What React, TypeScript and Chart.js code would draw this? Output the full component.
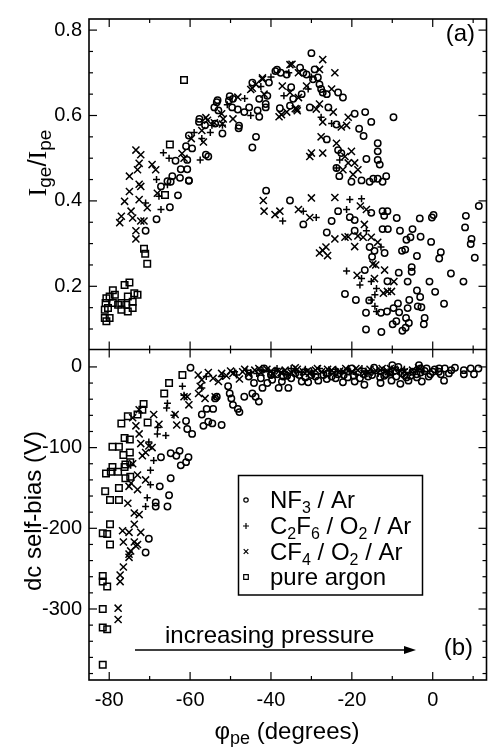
import React, { useEffect, useRef } from 'react';
import { Chart, registerables } from 'chart.js';

Chart.register(...registerables);

type P = [number, number];

// ---- axis tick labels ----
const xTickValues = [-80, -60, -40, -20, 0];
const topTickValues = [0.2, 0.4, 0.6, 0.8];
const bottomTickValues = [-300, -200, -100, 0];

// ---- panel (a): Ige/Ipe vs phi ----
const nf3Top: P[] = [
  [-63.6,0.494],[-61.0,0.528],[-60.3,0.553],[-59.5,0.523],[-60.7,0.496],[-62.3,0.474],[-60.7,0.474],[-60.3,0.448],
  [-62.5,0.454],[-64.4,0.458],[-65.6,0.446],[-56.1,0.508],[-55.5,0.504],[-57.8,0.585],[-56.3,0.577],[-53.8,0.581],
  [-54.0,0.619],[-53.4,0.631],[-53.0,0.612],[-52.0,0.558],[-50.2,0.645],[-49.4,0.639],[-50.4,0.635],[-49.6,0.619],
  [-48.2,0.614],[-46.6,0.608],[-45.4,0.619],[-48.0,0.570],[-44.6,0.677],[-42.9,0.639],[-43.3,0.612],[-42.9,0.597],
  [-41.3,0.627],[-41.3,0.619],[-40.5,0.677],[-40.9,0.646],[-38.9,0.704],[-37.6,0.700],[-37.8,0.617],[-43.7,0.550],
  [-44.6,0.525],[-57.7,0.592],[-53.2,0.636],[-38.5,0.707],[-47.9,0.576],
  [-71.0,0.330],[-68.3,0.357],[-65.0,0.385],[-67.2,0.434],[-63.0,0.413],[-60.3,0.447],[-64.8,0.445],[-41.2,0.424],
  [-30.0,0.746],[-36.1,0.696],[-32.8,0.712],[-32.0,0.700],[-31.2,0.696],[-29.2,0.708],[-29.6,0.685],[-28.4,0.689],
  [-28.0,0.673],[-27.6,0.662],[-35.0,0.666],[-32.4,0.650],[-34.5,0.639],[-35.3,0.623],[-30.4,0.619],[-27.2,0.654],
  [-26.2,0.650],[-23.4,0.654],[-22.2,0.642],[-25.8,0.619],[-23.8,0.579],[-19.3,0.604],[-16.7,0.608],[-18.2,0.569],
  [-15.2,0.585],[-17.1,0.552],[-9.7,0.596],[-26.2,0.544],[-23.4,0.519],[-22.6,0.512],[-16.4,0.498],[-13.6,0.535],
  [-13.6,0.516],[-13.6,0.496],[-13.1,0.485],[-23.1,0.458],[-20.1,0.445],[-17.6,0.448],[-15.6,0.445],[-14.7,0.452],
  [-13.6,0.452],[-12.4,0.445],[-11.5,0.458],[-23.8,0.477],
  [-35.3,0.401],[-32.0,0.345],[-23.4,0.376],[-25.0,0.353],[-20.5,0.362],[-19.3,0.355],[-15.2,0.372],[-12.4,0.376],
  [-11.2,0.376],[-12.0,0.365],[-8.9,0.360],[-3.2,0.359],[-0.2,0.361],[0.2,0.367],[8.2,0.365],[11.4,0.388],
  [-26.2,0.326],[-19.3,0.330],[-12.4,0.334],[-11.1,0.334],[-8.1,0.330],[-5.0,0.334],[-3.0,0.316],[-6.5,0.309],
  [-5.5,0.315],[-15.6,0.292],[-14.4,0.283],[-15.0,0.269],[-11.9,0.278],[-7.6,0.283],[-6.8,0.286],[-3.9,0.271],
  [-0.4,0.304],[2.0,0.280],[1.6,0.265],[9.6,0.311],[9.4,0.299],[10.4,0.267],[8.0,0.338],[-16.8,0.238],
  [-11.2,0.212],[-8.4,0.232],[-5.2,0.245],[-5.2,0.234],[-6.2,0.211],[-0.8,0.211],[4.5,0.230],[7.6,0.211],
  [-21.7,0.182],[-19.0,0.168],[-15.7,0.167],[-3.9,0.190],[-3.1,0.175],[0.6,0.187],[2.8,0.159],[-16.5,0.138],
  [-12.8,0.138],[-11.3,0.141],[-9.7,0.149],[-8.6,0.160],[-8.3,0.139],[-6.2,0.149],[-5.8,0.168],[-3.7,0.153],
  [-2.8,0.151],[-2.0,0.126],[-2.2,0.111],[-6.6,0.126],[-5.9,0.114],[-7.5,0.096],[-6.7,0.103],[-9.0,0.118],
  [-9.9,0.111],[-16.5,0.099],[-12.7,0.093],
];
const c2f6Top: P[] = [
  [-66.6,0.513],[-65.2,0.500],[-68.3,0.450],[-57.1,0.546],[-57.5,0.496],[-54.6,0.577],[-52.0,0.577],[-36.8,0.646],
  [-71.0,0.395],[-67.7,0.411],[-67.2,0.380],[-65.6,0.438],[-37.1,0.353],
  [-30.8,0.662],[-27.6,0.596],[-25.0,0.581],[-23.0,0.496],[-23.8,0.477],
  [-32.0,0.376],[-28.8,0.361],[-20.5,0.403],[-17.6,0.405],[-21.3,0.380],[-16.4,0.330],[-12.8,0.292],[-21.3,0.236],
  [-17.6,0.218],[-18.0,0.203],[-15.2,0.211],[-13.9,0.195],[-14.3,0.180],[-15.2,0.168],[-14.3,0.153],[-13.9,0.141],
  [-59.0,0.560],[-55.0,0.560],[-50.8,0.625],[-46.5,0.640],[-42.5,0.668],[-40.0,0.690],[-35.6,0.700],[-30.0,0.690],
  [-45.0,0.600],
];
const cf4Top: P[] = [
  [-73.4,0.519],[-72.2,0.508],[-72.6,0.488],[-73.0,0.473],[-69.4,0.485],[-68.5,0.473],[-75.0,0.458],[-72.6,0.439],
  [-62.0,0.511],[-61.5,0.500],[-59.7,0.546],[-57.1,0.565],[-56.7,0.538],[-55.7,0.589],[-52.2,0.604],[-51.8,0.592],
  [-48.2,0.643],[-49.4,0.592],[-45.0,0.661],[-43.7,0.673],[-42.1,0.685],[-41.7,0.650],[-37.2,0.669],[-38.0,0.597],
  [-75.0,0.422],[-72.2,0.434],[-76.2,0.399],[-77.0,0.364],[-77.4,0.349],[-74.6,0.376],[-74.2,0.360],[-72.6,0.403],
  [-70.6,0.384],[-72.2,0.353],[-71.4,0.353],[-73.4,0.330],[-73.4,0.311],[-68.1,0.418],[-41.9,0.401],[-41.7,0.376],
  [-39.0,0.368],[-37.8,0.376],
  [-27.2,0.731],[-24.2,0.700],[-35.3,0.719],[-33.2,0.700],[-28.0,0.708],[-31.2,0.669],[-35.3,0.654],[-33.2,0.642],
  [-33.6,0.615],[-36.1,0.608],[-28.8,0.615],[-28.0,0.627],[-25.0,0.662],[-24.6,0.608],[-27.2,0.585],[-22.6,0.573],
  [-21.3,0.577],[-20.9,0.596],[-27.6,0.550],[-23.8,0.535],[-30.0,0.512],[-30.4,0.504],[-27.2,0.512],[-20.1,0.516],
  [-21.7,0.504],[-20.9,0.489],[-19.3,0.489],[-22.2,0.473],[-18.5,0.473],[-19.7,0.462],
  [-33.2,0.380],[-30.0,0.407],[-30.4,0.361],[-24.2,0.408],[-17.9,0.388],[-16.4,0.380],[-24.2,0.311],[-21.7,0.315],
  [-20.9,0.316],[-18.5,0.318],[-17.2,0.315],[-16.9,0.345],[-15.2,0.315],[-13.6,0.303],[-19.3,0.293],[-27.2,0.284],
  [-26.4,0.292],[-28.0,0.278],[-26.0,0.272],[-14.8,0.252],[-14.1,0.250],[-11.9,0.238],[-18.7,0.226],[-14.4,0.218],
  [-9.6,0.211],[-12.2,0.184],[-11.2,0.188],[-10.2,0.188],
  [-34.8,0.720],[-42.1,0.688],[-44.6,0.664],[-56.1,0.595],[-54.0,0.583],[-52.0,0.580],[-37.4,0.602],[-34.0,0.616],
  [-33.5,0.611],
];
const argonTop: P[] = [
  [-61.5,0.683],[-65.0,0.532],[-66.2,0.414],[-71.4,0.288],[-71.1,0.276],[-70.6,0.253],
  [-79.1,0.191],[-79.9,0.176],[-80.7,0.172],[-80.9,0.161],[-81.1,0.145],[-81.1,0.126],[-80.7,0.118],[-79.9,0.126],
  [-80.3,0.149],[-79.1,0.161],[-78.6,0.180],[-77.0,0.161],[-77.0,0.145],[-76.2,0.203],[-75.0,0.209],[-75.4,0.176],
  [-75.4,0.141],[-74.2,0.164],[-74.2,0.149],[-73.8,0.184],[-73.0,0.180],[-75.8,0.157],[-77.8,0.157],
];

// ---- panel (b): dc self-bias (V) vs phi ----
const nf3Bottom: P[] = [
  [-71.0,-230],[-70.2,-213],[-68.5,-168],[-68.5,-173],[-65.6,-173],[-65.2,-159],[-64.8,-138],[-67.5,-148],
  [-67.2,-112],[-64.8,-107],[-63.4,-110],[-62.6,-104],[-62.3,-122],[-61.0,-118],[-60.4,-112],[-61.0,-67],
  [-60.7,-77],[-59.5,-83],[-59.9,-1],[-57.1,-59],[-56.7,-73],[-55.5,-68],[-54.5,-70],[-55.9,-52],
  [-54.3,-52],[-52.2,-72],[-53.8,-39],[-53.4,-37],[-50.6,-24],[-50.2,-33],[-49.8,-39],[-49.4,-47],
  [-48.2,-52],[-47.8,-56],[-46.6,-37],[-44.6,-33],[-43.8,-37],[-43.0,-43],[-44.2,-20],[-42.1,-26],
  [-40.9,-20],[-39.7,-16],[-38.1,-26],[-37.3,-18],[-41.7,-2],
  [-40.0,-10],[-37.0,-12],[-35.0,-14],[-33.0,-10],[-31.5,-13],[-29.0,-12],[-27.0,-10],[-25.0,-12],
  [-23.5,-9],[-21.0,-13],[-19.5,-11],[-18.0,-14],[-15.0,-10],[-13.0,-13],[-11.5,-9],[-9.0,-12],
  [-7.5,-8],[-6.5,-13],[-5.0,-6],[-4.0,-9],[-2.0,-5],[-1.0,-12],[0.5,-3],[1.5,-6],
  [3.0,-2],[5.5,-1],[-3.0,-2],[-8.5,0],[-14.5,-1],[-20.0,-2],
  [-32.4,-18],[-30.8,-19],[-28.3,-17],[-26.2,-15],[-22.2,-19],[-19.3,-18],[-16.9,-22],[-12.9,-20],
  [-10.2,-17],[-8.0,-21],[-6.0,-17],[-3.9,-13],[-2.7,-18],[-0.6,-9],[2.8,-17],[4.6,-4],
  [7.7,-4],[9.4,-2],[11.3,-2],[10.2,-9],[7.7,-9],[-10.0,2],[-3.4,2],[1.6,-2],[-35.7,-26],
  [-45.5,-12],[-42.5,-14],[-38.5,-9],[-36.0,-11],[-34.0,-8],[-30.0,-10],[-26.0,-8],[-24.0,-14],
  [-22.0,-10],[-17.0,-9],[-16.0,-12],[-12.0,-11],[-10.5,-7],[-7.0,-10],[-5.5,-11],[-3.0,-7],
  [0.0,-6],[-1.5,-2],[2.0,-9],[4.0,-8],
];
const c2f6Bottom: P[] = [
  [-71.0,-173],[-70.6,-162],[-69.8,-128],[-69.0,-116],[-69.8,-146],[-70.2,-93],[-68.1,-83],[-68.0,-75],
  [-65.6,-45],[-65.8,-51],[-64.0,-60],[-61.9,-24],[-61.5,-35],[-74.7,-122],[-57.1,-26],[-39.8,-10],[-66.0,-85],
  [-52.0,-12],[-48.5,-10],[-46.0,-4],[-43.5,-8],[-40.5,-6],[-38.5,-2],[-36.0,-9],[-34.0,-5],
  [-31.5,-3],[-29.5,-9],[-28.0,-2],[-25.5,-5],[-22.5,-8],[-21.0,-3],[-19.0,-9],[-16.5,-5],
  [-13.5,-8],[-12.0,-4],[-10.0,-9],[-7.0,-3],[-5.5,-7],
  [-56.0,-12],[-49.0,-6],[-45.0,-7],[-42.0,-4],[-39.0,-4],[-37.0,-6],[-35.0,-2],[-32.5,-7],
  [-30.0,-5],[-27.0,-7],[-24.0,-3],[-23.5,-6],[-20.5,-5],[-17.5,-2],[-15.0,-7],[-11.0,-6],
  [-8.5,-4],[-4.0,-3],[-2.5,-6],
];
const cf4Bottom: P[] = [
  [-77.8,-313],[-77.8,-299],[-77.3,-266],[-77.3,-258],[-76.5,-248],[-75.1,-236],[-74.7,-228],[-75.1,-232],
  [-73.4,-222],[-73.8,-217],[-73.0,-220],[-76.7,-203],[-76.5,-217],[-75.1,-205],[-73.8,-195],[-72.6,-183],
  [-73.8,-181],[-72.2,-205],[-75.4,-169],[-74.6,-144],[-75.1,-148],[-73.0,-152],[-73.0,-134],[-71.0,-140],
  [-74.2,-120],[-71.8,-110],[-71.0,-106],[-70.2,-98],[-72.2,-95],[-72.6,-83],[-69.4,-100],[-73.4,-73],
  [-74.2,-63],[-72.6,-53],[-69.0,-59],[-67.7,-71],[-63.3,-72],[-63.7,-59],[-60.7,-37],[-60.3,-47],
  [-61.5,-37],[-57.1,-16],[-57.9,-33],[-56.3,-39],[-54.3,-14],[-53.0,-18],[-52.2,-8],[-51.0,-11],
  [-49.4,-8],[-47.8,-15],[-53.8,-37],[-57.5,-24],
  [-47.0,-6],[-45.5,-9],[-44.0,-4],[-42.5,-7],[-41.0,-3],[-39.5,-8],[-38.0,-5],[-36.5,-4],
  [-35.0,-7],[-33.5,-3],[-32.0,-6],[-30.5,-8],[-29.0,-4],[-27.5,-6],[-26.0,-3],[-24.5,-7],
  [-23.0,-5],[-21.5,-2],[-20.0,-6],[-18.5,-4],[-17.0,-8],[-15.5,-3],[-14.0,-5],[-12.5,-2],
  [-11.0,-6],[-9.5,-3],[-8.0,-5],
  [-58.0,-10],[-55.5,-7],[-50.0,-5],[-46.5,-3],[-43.0,-2],[-40.0,-5],[-37.5,-7],[-34.0,-1],
  [-31.0,-5],[-28.5,-2],[-25.0,-4],[-22.0,-6],[-19.0,-2],[-16.0,-6],[-13.0,-4],[-10.5,-2],
  [-7.0,-6],[-5.0,-4],[-3.5,-1],
];
const argonBottom: P[] = [
  [-81.6,-369],[-81.6,-323],[-80.5,-325],[-81.6,-300],[-81.6,-259],[-81.6,-266],[-80.5,-272],[-81.6,-206],
  [-80.5,-207],[-79.8,-195],[-79.8,-220],[-81.0,-154],[-79.8,-165],[-80.8,-132],[-79.6,-130],[-79.2,-124],
  [-77.8,-130],[-79.2,-99],[-77.6,-99],[-77.6,-165],[-77.6,-150],[-76.5,-109],[-76.0,-121],[-76.2,-88],
  [-74.9,-90],[-77.0,-70],[-75.4,-61],[-74.9,-106],[-74.8,-118],[-76.0,-138],[-76.2,-124],[-74.8,-136],
  [-71.5,-46],[-71.8,-53],[-70.5,-69],[-73.0,-59],[-66.4,-33],[-65.2,-20],[-61.9,-10],
];

const SANS = "'Liberation Sans', Arial, Helvetica, sans-serif";
const SERIF = "'Liberation Serif', 'Times New Roman', serif";

type Part = { t: string; sub?: boolean; serif?: boolean };

function drawRich(ctx: CanvasRenderingContext2D, parts: Part[], x: number, y: number, align: 'left' | 'center' | 'right', size: number, subSize: number, subDy: number) {
  const fontOf = (p: Part) => `${p.sub ? subSize : size}px ${p.serif ? SERIF : SANS}`;
  let w = 0;
  for (const p of parts) { ctx.font = fontOf(p); w += ctx.measureText(p.t).width; }
  let cx = align === 'center' ? x - w / 2 : align === 'right' ? x - w : x;
  ctx.textAlign = 'left';
  ctx.textBaseline = 'alphabetic';
  for (const p of parts) {
    ctx.font = fontOf(p);
    ctx.fillText(p.t, cx, y + (p.sub ? subDy : 0));
    cx += ctx.measureText(p.t).width;
  }
}

function marker(ctx: CanvasRenderingContext2D, kind: string, x: number, y: number, r: number) {
  ctx.beginPath();
  if (kind === 'circle') ctx.arc(x, y, r, 0, Math.PI * 2);
  else if (kind === 'cross') { ctx.moveTo(x - r, y); ctx.lineTo(x + r, y); ctx.moveTo(x, y - r); ctx.lineTo(x, y + r); }
  else if (kind === 'crossRot') { ctx.moveTo(x - r, y - r); ctx.lineTo(x + r, y + r); ctx.moveTo(x - r, y + r); ctx.lineTo(x + r, y - r); }
  else ctx.rect(x - r, y - r, 2 * r, 2 * r);
  ctx.stroke();
}

const decorPlugin = {
  id: 'decor',
  afterDraw(chart: any) {
    const ctx: CanvasRenderingContext2D = chart.ctx;
    const { left, right, top, bottom } = chart.chartArea;
    const sx = chart.scales.x, st = chart.scales.yTop, sb = chart.scales.yBot;
    const mid = st.bottom;
    ctx.save();
    ctx.strokeStyle = '#000';
    ctx.fillStyle = '#000';
    ctx.lineWidth = 1.6;
    ctx.strokeRect(left, top, right - left, bottom - top);
    ctx.beginPath(); ctx.moveTo(left, mid); ctx.lineTo(right, mid); ctx.stroke();

    ctx.lineWidth = 1.2;
    const seg = (x1: number, y1: number, x2: number, y2: number) => { ctx.beginPath(); ctx.moveTo(x1, y1); ctx.lineTo(x2, y2); ctx.stroke(); };
    for (let v = -80; v <= 10; v += 10) {
      const px = sx.getPixelForValue(v);
      const L = v % 20 === 0 ? 8 : 4;
      seg(px, top, px, top + L);
      seg(px, mid, px, mid - L);
      seg(px, mid, px, mid + L);
      seg(px, bottom, px, bottom - L);
    }
    for (let i = 2; i <= 16; i++) {
      const v = i * 0.05;
      const py = st.getPixelForValue(v);
      const L = i % 4 === 0 ? 8 : 4;
      seg(left, py, left + L, py);
      seg(right, py, right - L, py);
    }
    for (let v = -380; v <= 0; v += 20) {
      const py = sb.getPixelForValue(v);
      const L = v % 100 === 0 ? 8 : 4;
      seg(left, py, left + L, py);
      seg(right, py, right - L, py);
    }

    // axis titles
    ctx.save();
    ctx.translate(46, 163);
    ctx.rotate(-Math.PI / 2);
    drawRich(ctx, [{ t: 'I', serif: true }, { t: 'ge', sub: true }, { t: '/' }, { t: 'I', serif: true }, { t: 'pe', sub: true }], 0, 0, 'center', 26, 19, 5);
    ctx.restore();
    ctx.save();
    ctx.translate(41, 511);
    ctx.rotate(-Math.PI / 2);
    drawRich(ctx, [{ t: 'dc self-bias (V)' }], 0, 0, 'center', 24, 18, 5);
    ctx.restore();
    drawRich(ctx, [{ t: 'φ' }, { t: 'pe', sub: true }, { t: ' (degrees)' }], 287, 739, 'center', 24, 18, 5);

    // panel labels
    drawRich(ctx, [{ t: '(a)' }], 475, 41, 'right', 24, 18, 5);
    drawRich(ctx, [{ t: '(b)' }], 473, 655, 'right', 24, 18, 5);

    // pressure arrow
    drawRich(ctx, [{ t: 'increasing pressure' }], 165, 643, 'left', 24, 18, 5);
    ctx.lineWidth = 1.5;
    seg(135, 650, 406, 650);
    ctx.beginPath(); ctx.moveTo(416, 650); ctx.lineTo(404, 646); ctx.lineTo(404, 654); ctx.closePath(); ctx.fill();

    // legend
    ctx.lineWidth = 1.5;
    ctx.strokeRect(238.5, 475.5, 184, 119.5);
    const rows: { kind: string; r: number; parts: Part[] }[] = [
      { kind: 'circle', r: 2.2, parts: [{ t: 'NF' }, { t: '3', sub: true }, { t: ' / Ar' }] },
      { kind: 'cross', r: 3, parts: [{ t: 'C' }, { t: '2', sub: true }, { t: 'F' }, { t: '6', sub: true }, { t: ' / O' }, { t: '2', sub: true }, { t: ' / Ar' }] },
      { kind: 'crossRot', r: 2.3, parts: [{ t: 'CF' }, { t: '4', sub: true }, { t: ' / O' }, { t: '2', sub: true }, { t: ' / Ar' }] },
      { kind: 'rect', r: 2.3, parts: [{ t: 'pure argon' }] },
    ];
    const baselines = [508, 534, 559.5, 585];
    rows.forEach((row, i) => {
      ctx.lineWidth = 1.2;
      marker(ctx, row.kind, 246, baselines[i] - 8, row.r);
      drawRich(ctx, row.parts, 270, baselines[i], 'left', 24, 16, 5);
    });
    ctx.restore();
  },
};

function ds(data: P[], axis: string, style: string, r: number) {
  return {
    data: data.map(([x, y]) => ({ x, y })),
    yAxisID: axis,
    pointStyle: style,
    pointRadius: r,
    pointBorderWidth: 1.5,
    pointBorderColor: '#000',
    pointBackgroundColor: 'rgba(0,0,0,0)',
    showLine: false,
  };
}

export default function App() {
  const ref = useRef<HTMLCanvasElement | null>(null);
  useEffect(() => {
    if (!ref.current) return;
    const chart = new Chart(ref.current, {
      type: 'scatter',
      data: {
        datasets: [
          ds(nf3Top, 'yTop', 'circle', 3.2),
          ds(c2f6Top, 'yTop', 'cross', 3.5),
          ds(cf4Top, 'yTop', 'crossRot', 5),
          ds(argonTop, 'yTop', 'rect', 4.6),
          ds(nf3Bottom, 'yBot', 'circle', 3.2),
          ds(c2f6Bottom, 'yBot', 'cross', 3.5),
          ds(cf4Bottom, 'yBot', 'crossRot', 5),
          ds(argonBottom, 'yBot', 'rect', 4.6),
        ] as any,
      },
      options: {
        animation: false,
        responsive: false,
        devicePixelRatio: 1,
        events: [],
        layout: { padding: { left: 0, right: 4.3, top: 8, bottom: 0 } },
        plugins: { legend: { display: false }, tooltip: { enabled: false } },
        scales: {
          x: {
            type: 'linear',
            position: 'bottom',
            min: -85,
            max: 13.3,
            grid: { display: false, drawTicks: false },
            border: { display: false },
            afterBuildTicks: (s: any) => { s.ticks = xTickValues.map((v) => ({ value: v })); },
            afterFit: (s: any) => { s.height = 67; },
            ticks: { color: '#000', font: { family: SANS, size: 20 }, padding: 8, maxRotation: 0, autoSkip: false, callback: (v: any) => String(v) },
          },
          yBot: {
            type: 'linear',
            position: 'left',
            stack: 'panels',
            stackWeight: 1,
            min: -388,
            max: 21.6,
            grid: { display: false, drawTicks: false },
            border: { display: false },
            afterBuildTicks: (s: any) => { s.ticks = bottomTickValues.map((v) => ({ value: v })); },
            afterFit: (s: any) => { s.width = 89; },
            ticks: { color: '#000', font: { family: SANS, size: 20 }, padding: 7, autoSkip: false, callback: (v: any) => String(v) },
          },
          yTop: {
            type: 'linear',
            position: 'left',
            stack: 'panels',
            stackWeight: 1,
            min: 0.052,
            max: 0.826,
            grid: { display: false, drawTicks: false },
            border: { display: false },
            afterBuildTicks: (s: any) => { s.ticks = topTickValues.map((v) => ({ value: v })); },
            afterFit: (s: any) => { s.width = 89; },
            ticks: { color: '#000', font: { family: SANS, size: 20 }, padding: 7, autoSkip: false, callback: (v: any) => String(v) },
          },
        } as any,
      },
      plugins: [decorPlugin],
    });
    return () => chart.destroy();
  }, []);
  return (
    <div style={{ position: 'absolute', left: 0, top: 0, width: 493, height: 747, background: '#fff' }}>
      <canvas ref={ref} width={493} height={747} style={{ display: 'block', width: 493, height: 747 }} />
    </div>
  );
}
